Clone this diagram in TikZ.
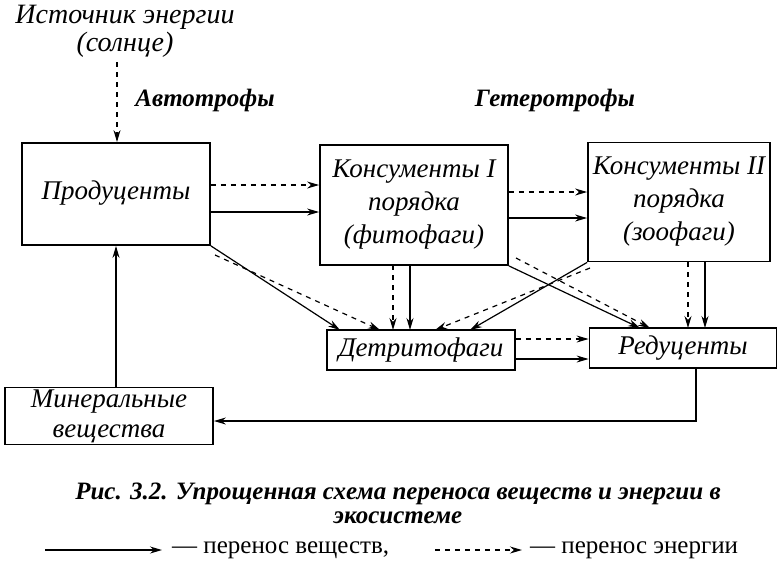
\documentclass[tikz,border=0pt]{standalone}
\usepackage{fontspec}
\setmainfont{Liberation Serif}
\usetikzlibrary{arrows.meta}
\begin{document}
\begin{tikzpicture}[x=1pt,y=-1pt,
  box/.style={draw,line width=1.8pt,inner sep=0pt,font=\itshape\fontsize{27}{33}\selectfont,align=center},
  lbl/.style={inner sep=0pt,align=center},
  sol/.style={line width=1.2pt,-{Stealth[length=12pt,width=7pt]}},
  dsh/.style={line width=1.2pt,dash pattern=on 5pt off 5pt,-{Stealth[length=12pt,width=7pt]}}]
\useasboundingbox (0,0) rectangle (781,566);
\node[box,minimum width=188,minimum height=102] (P) at (116,194) {\raisebox{8pt}{Продуценты}};
\node[box,minimum width=188,minimum height=120] (K1) at (414,205) {Консументы I\\порядка\\(фитофаги)};
\node[box,minimum width=182,minimum height=119] (K2) at (679,202) {Консументы II\\порядка\\(зоофаги)};
\node[box,minimum width=188,minimum height=40] (D) at (421,350) {Детритофаги};
\node[box,minimum width=187,minimum height=40] (R) at (683,348) {Редуценты};
\node[box,minimum width=208,minimum height=57,font=\itshape\fontsize{27}{30}\selectfont] (M) at (109,416) {Минеральные\\вещества};
\node[lbl,font=\itshape\fontsize{28}{28}\selectfont] (S) at (125,31) {Источник энергии\\(солнце)};
\node[lbl,font=\bfseries\itshape\fontsize{25}{25}\selectfont] (A) at (205,100) {Автотрофы};
\node[lbl,font=\bfseries\itshape\fontsize{25}{25}\selectfont] (G) at (555,100) {Гетеротрофы};
\node[lbl,font=\bfseries\itshape\fontsize{25}{24}\selectfont] (C) at (398,503) {Рис. 3.2. Упрощенная схема переноса веществ и энергии в\\экосистеме};
\draw[dsh] (117,62) -- (P.north -| 117,0);
\draw[dsh] (P.east |- 0,185) -- (K1.west |- 0,185);
\draw[sol] (P.east |- 0,212) -- (K1.west |- 0,212);
\draw[dsh] (K1.east |- 0,192) -- (K2.west |- 0,192);
\draw[sol] (K1.east |- 0,218) -- (K2.west |- 0,218);
\draw[dsh] (215,255) -- (380,330);
\draw[sol] (P.south east) -- (340,330);
\draw[dsh] (393,265) -- (393,330);
\draw[sol] (410,265) -- (410,330);
\draw[dsh] (590,268) -- (435,330);
\draw[sol] (K2.south west) -- (470,330);
\draw[dsh] (516,258) -- (650,328);
\draw[sol] (K1.south east) -- (640,328);
\draw[dsh] (688,262) -- (688,328);
\draw[sol] (705,262) -- (705,328);
\draw[dsh] (D.east |- 0,339) -- (R.west |- 0,339);
\draw[sol] (D.east |- 0,359) -- (R.west |- 0,359);
\draw[sol] (696,368) -- (696,421) -- (M.east |- 0,421);
\draw[sol] (M.north -| 116,0) -- (P.south -| 116,0);
\coordinate (l1) at (45,550); \coordinate (l2) at (162,550);
\coordinate (l3) at (435,550); \coordinate (l4) at (522,550);
\draw[sol] (l1) -- (l2);
\draw[dsh] (l3) -- (l4);
\node[lbl,anchor=west,font=\fontsize{25}{25}\selectfont] (t1) at (172,550) {— перенос веществ,};
\node[lbl,anchor=west,font=\fontsize{25}{25}\selectfont] (t2) at (530,550) {— перенос энергии};
\end{tikzpicture}
\end{document}
